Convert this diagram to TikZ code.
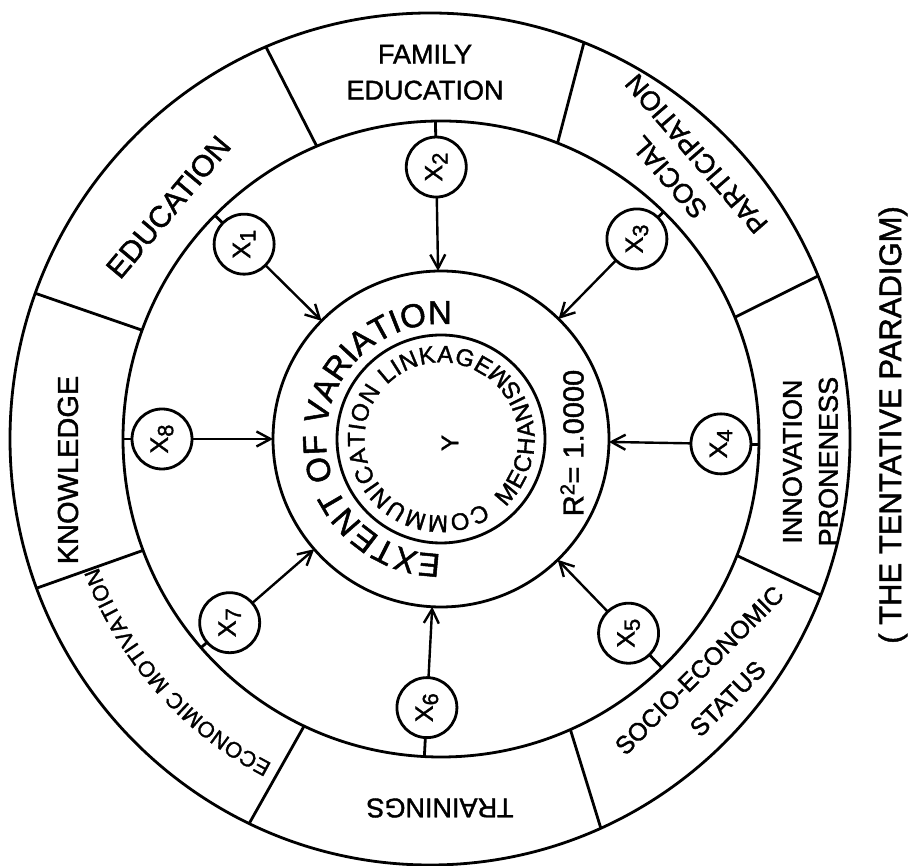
\documentclass[tikz,border=0pt]{standalone}
\usepackage{fontspec}
\setmainfont{Liberation Sans}[FakeBold=1.5]
\usetikzlibrary{arrows.meta,decorations.text,calc}
\newcommand{\fs}[1]{\fontsize{#1}{#1}\selectfont}
\begin{document}
\begin{tikzpicture}[x=1pt,y=1pt,
  ln/.style={line width=2.8pt},
  ring/.style={circle,draw,line width=2.8pt,inner sep=0pt,outer sep=0pt},
  xc/.style={circle,draw,line width=2.8pt,minimum size=60pt,inner sep=0pt,outer sep=0pt,rotate=90,font=\fs{25}},
  arr/.style={line width=2.4pt,-{Straight Barb[length=14pt,width=15pt,line width=2.4pt]}},
  lab/.style={font=\fontsize{27}{36}\selectfont,align=center,inner sep=0pt},
]
\useasboundingbox (0,0) rectangle (917,866);
\coordinate (C) at (441,427);
\coordinate (O) at (430,427);
\node[ring,minimum size=208pt] (core) at (C) {};
\node[ring,minimum size=336pt] (inner) at (C) {};
\node[ring,minimum size=636pt] (mid) at (C) {};
\draw[ln] (O) ellipse[x radius=420,y radius=426];
% dividers of the outer ring
\foreach \a [count=\i] in {160,113,68.5,22.5,-21.5,-66,-115.5,-159.5}{
  \coordinate (di\i) at ($(C)+(\a:318)$);
  \coordinate (do\i) at ($(O)+({420*cos(\a)},{426*sin(\a)})$);
  \draw[ln] (di\i) -- (do\i);
}
% the eight factors
\foreach \n/\a/\r in {1/135.3/277,2/91/272,3/45.6/280,4/-1/280,5/-46/270,6/-93/269,7/-139/280,8/180/279}{
  \node[xc] (x\n) at ($(C)+(\a:\r)$) {X\raisebox{-0.4ex}{\fs{22}\n}};
  \coordinate (s\n) at ($(C)+(\a:318)$);
  \draw[ln] (x\n) -- (s\n);
  \draw[arr] (x\n) -- (inner);
}
% texts along circles
\path[decorate,decoration={text along path,text align=fit to path,
  text={|\fs{33}|EXTENT OF VARIATION}}]
  ($(C)+(270:115)$) arc[start angle=270,end angle=85,radius=115];
\path[decorate,decoration={text along path,text align=fit to path,
  text={|\fs{24}|COMMUNICATION LINKAGE}}]
  ($(C)+(303.5:76.5)$) arc[start angle=303.5,end angle=54,radius=76.5];
\path[decorate,decoration={text along path,text align=fit to path,
  text={|\fs{24}|MECHANISM}}]
  ($(C)+(-46.5:93.5)$) arc[start angle=-46.5,end angle=53,radius=93.5];
\node[rotate=90,font=\fs{24}] (y) at (450,423) {Y};
\node[rotate=90,font=\fs{29}] (r2) at (572,423) {R\textsuperscript{2}= 1.0000};
% ring labels
\node[lab] (fam) at ($(C)+(92.5:367)$) {FAMILY\\EDUCATION};
\node[lab,rotate=50,font=\fs{30}] (edu) at ($(C)+(139.6:358)$) {EDUCATION};
\node[lab,rotate=131] (soc) at ($(C)+(48.5:365)$) {SOCIAL\\PARTICIPATION};
\node[lab,rotate=90] (inn) at ($(C)+(-3.5:370)$) {INNOVATION\\PRONENESS};
\node[lab,rotate=45,font=\fontsize{25}{40}\selectfont] (ses) at (713.5,181.5) {SOCIO-ECONOMIC\\STATUS};
\node[lab,rotate=180] (trn) at (440,58) {TRAININGS};
\path[decorate,decoration={text along path,text align=fit to path,
  text={|\fs{22}|ECONOMIC MOTIVATION}}]
  ($(C)+(-117.5:366)$) arc[start angle=-117.5,end angle=-159.5,radius=366];
\node[lab,rotate=90,font=\fs{29}] (kno) at (68,396) {KNOWLEDGE};
\node[rotate=90,font=\fs{31}] (tp) at (893,441) {( THE TENTATIVE PARADIGM)};
\end{tikzpicture}
\end{document}
